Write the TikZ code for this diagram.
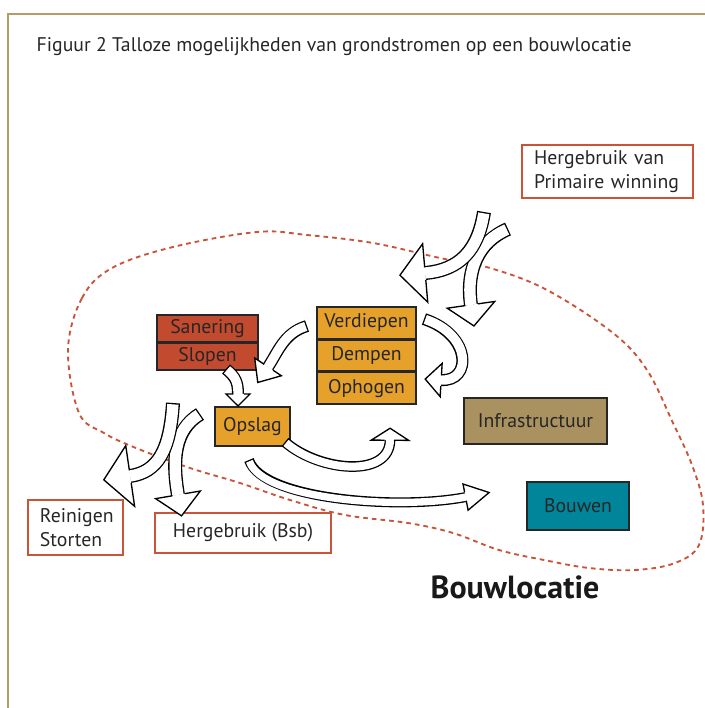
\documentclass[tikz,border=0pt]{standalone}
\usepackage{fontspec}
\setmainfont{PT Sans}
\usetikzlibrary{positioning,decorations.markings}

\definecolor{framegold}{HTML}{B59C65}
\definecolor{sanred}{HTML}{C24A2E}
\definecolor{workamber}{HTML}{E6A12B}
\definecolor{infratan}{HTML}{A99160}
\definecolor{bouwteal}{HTML}{00859A}
\definecolor{edgered}{HTML}{C8553A}
\definecolor{inkgrey}{HTML}{262626}

\tikzset{
  lbl/.style={font=\fontsize{14.8}{17.5}\selectfont, text=inkgrey},
  workbox/.style={lbl, draw=black!85, line width=1.1pt, inner sep=0pt},
  sourcebox/.style={lbl, draw=edgered, line width=1.5pt, fill=white, inner sep=0pt},
  % hollow band arrow: band width, head half width, head length
  flow/.style n args={3}{
    preaction={draw=black, line width=#1+2pt, shorten <=0pt},
    draw=white, line width=#1, shorten <=1pt,
    postaction={decorate},
    decoration={markings, mark=at position 0.998 with {
      \filldraw[fill=white, draw=black, line width=1pt, line join=miter]
        (0,0.5*#1) -- (0,#2) -- (#3,0) -- (0,-#2) -- (0,-0.5*#1);
    }}
  }
}

\begin{document}
\begin{tikzpicture}[x=0.75pt, y=-0.75pt]
  \useasboundingbox (0,0) rectangle (705,708);

  % frame and caption
  \draw[framegold, line width=2pt] (705,14) -- (8,14) -- (8,708);
  \node[lbl, anchor=west] (title) at (32,47)
    {Figuur 2 Talloze mogelijkheden van grondstromen op een bouwlocatie};

  % site boundary
  \draw[edgered, line width=1.4pt, dash pattern=on 3.5pt off 3pt]
    plot[smooth cycle, tension=0.6] coordinates {
      (68,350) (82,298) (112,268) (173,247) (257,232) (307,235) (373,243)
      (440,258) (490,268) (547,290) (613,333) (647,370) (673,423) (692,465)
      (703,505) (699,545) (675,563) (635,570) (589,568) (544,560) (499,550)
      (453,533) (408,523) (345,515) (290,500) (240,483) (190,468) (136,448)
      (104,433) (79,413)};

  % boxes
  \node[workbox, fill=sanred, minimum width=75.75pt, minimum height=20pt]
    (sanering) at (207.5,328.5) {Sanering};
  \node[workbox, fill=sanred, minimum width=75.75pt, minimum height=20pt,
    below=0pt of sanering] (slopen) {Slopen};
  \node[workbox, fill=workamber, minimum width=74.25pt, minimum height=23.5pt]
    (verdiepen) at (366.5,322.7) {Verdiepen};
  \node[workbox, fill=workamber, minimum width=74.25pt, minimum height=23.5pt,
    below=0pt of verdiepen] (dempen) {Dempen};
  \node[workbox, fill=workamber, minimum width=74.25pt, minimum height=23.5pt,
    below=0pt of dempen] (ophogen) {Ophogen};
  \node[workbox, fill=workamber, minimum width=56.25pt, minimum height=29.25pt]
    (opslag) at (252.5,426.5) {Opslag};
  \node[workbox, fill=infratan, minimum width=107.25pt, minimum height=34.5pt]
    (infra) at (535.5,421) {Infrastructuur};
  \node[workbox, fill=bouwteal, minimum width=76.5pt, minimum height=36pt]
    (bouwen) at (578,506) {Bouwen};
  \node[sourcebox, align=left, text width=110pt, inner xsep=9pt,
    minimum height=39.75pt] (primaire) at (607.5,171.5)
    {Hergebruik van\\Primaire winning};
  \node[sourcebox, align=left, text width=53.25pt, inner xsep=9pt,
    minimum height=41.25pt] (reinigen) at (75.5,527.5) {Reinigen\\Storten};
  \node[sourcebox, minimum width=132pt, minimum height=30pt]
    (bsb) at (243,533) {Hergebruik (Bsb)};
  \node[font=\fontsize{24}{28}\selectfont\bfseries, text=black!90]
    (site) at (515,587) {Bouwlocatie};

  % arrow ends
  \coordinate (inA) at (484,212);   \coordinate (inAend) at (425,273);
  \coordinate (inB) at (508,229);   \coordinate (inBend) at (471,305);
  \coordinate (outC) at (173,403);  \coordinate (outCend) at (130,476);
  \coordinate (outD) at (200,414);  \coordinate (outDend) at (178,495);
  \coordinate (slp) at (226,369);   \coordinate (slpend) at (238,394);
  \coordinate (ver) at (307,326);   \coordinate (verend) at (268,367);
  \coordinate (loop) at (424,319);  \coordinate (loopend) at (441,380);
  \coordinate (ops) at (285,442);   \coordinate (opsend) at (390,440);
  \coordinate (ops2) at (249,460);  \coordinate (ops2end) at (466,497);

  % flows
  \draw[flow={8.5pt}{18pt}{16pt}] (inB) .. controls (478,242) and (466,270) .. (inBend);
  \draw[flow={8.5pt}{22pt}{19pt}] (inA) .. controls (478,250) and (460,270) .. (inAend);
  \draw[flow={8.5pt}{17pt}{16pt}] (outD) .. controls (174,430) and (172,460) .. (outDend);
  \draw[flow={8.5pt}{23pt}{20pt}] (outC) .. controls (170,450) and (158,472) .. (outCend);
  \draw[flow={7pt}{9pt}{9pt}] (slp) .. controls (236,377) and (238,383) .. (slpend);
  \draw[flow={7pt}{12pt}{14pt}] (ver) .. controls (284,333) and (278,352) .. (verend);
  \draw[flow={7pt}{12.5pt}{12pt}] (loop) .. controls (472,335) and (472,382) .. (loopend);
  \draw[flow={6pt}{14pt}{9pt}] (ops) .. controls (320,472) and (390,478) .. (opsend);
  \draw[flow={5.5pt}{10pt}{18pt}] (ops2) .. controls (262,500) and (400,510) .. (ops2end);
\end{tikzpicture}
\end{document}
